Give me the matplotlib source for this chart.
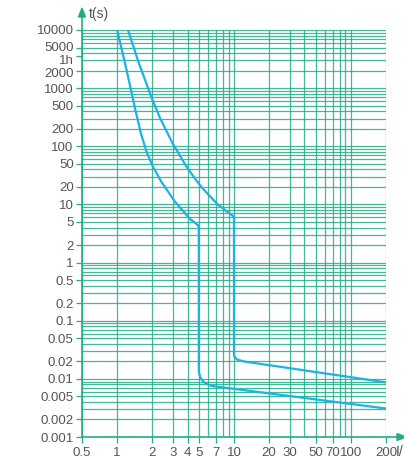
import matplotlib
matplotlib.use("Agg")
import matplotlib.pyplot as plt
from matplotlib.transforms import ScaledTranslation

plt.rcParams['font.family'] = ['Liberation Sans', 'DejaVu Sans']

# tripping curves (I/In, t in s)
low_x = [1.0, 1.192, 1.421, 1.597, 1.796, 2.019, 2.407, 3.10, 4.155, 4.955, 5.0,
         5.0, 5.15, 5.46, 5.90, 6.51, 200]
low_t = [10000, 2238, 450, 166, 77.6, 44.9, 24.0, 11.4, 5.75, 4.32, 4.3,
         0.0131, 0.01054, 0.0090, 0.00805, 0.00753, 0.00309]

up_x = [1.239, 1.521, 1.961, 2.314, 2.983, 3.997, 5.252, 7.177, 10.0,
        10.0, 10.62, 12.2, 200]
up_t = [10000, 2815, 704, 314, 112, 42, 19.9, 10.2, 6.12,
        0.0247, 0.0215, 0.0199, 0.0087]

x_ticks = [0.5, 1, 2, 3, 4, 5, 7, 10, 20, 30, 50, 70, 100, 200]
x_labels = ['0.5', '1', '2', '3', '4', '5', '7', '10', '20', '30', '50', '70', '100', '200']
x_grid = [0.5, 1, 2, 3, 4, 5, 6, 7, 8, 9, 10, 20, 30, 40, 50, 60, 70, 80, 90, 100, 200]

y_ticks = [10000, 5000, 3600, 2000, 1000, 500, 200, 100, 50, 20, 10, 5, 2, 1,
           0.5, 0.2, 0.1, 0.05, 0.02, 0.01, 0.005, 0.002, 0.001]
y_labels = ['10000', '5000', '1h', '2000', '1000', '500', '200', '100', '50', '20', '10',
            '5', '2', '1', '0.5', '0.2', '0.1', '0.05', '0.02', '0.01', '0.005', '0.002', '0.001']

green = '#22ad86'
blue = '#1cb2e6'
grey = '#555555'

W, H = 404, 459
fig = plt.figure(figsize=(W / 100, H / 100), dpi=100)
ax = fig.add_axes([82 / W, 1 - 437 / H, (386 - 82) / W, (437 - 30) / H])

ax.set_xscale('log')
ax.set_yscale('log')
ax.set_xlim(0.5, 200)
ax.set_ylim(0.001, 10000)

y_grid = []
for e in range(-3, 4):
    for k in range(1, 10):
        y_grid.append(k * 10.0 ** e)
y_grid.append(10000)

for gx in x_grid:
    ax.axvline(gx, color=green, lw=0.9, alpha=0.85, zorder=1)
for gy in y_grid:
    ax.axhline(gy, color=green, lw=0.9, alpha=0.85, zorder=1)

ax.plot(low_x, low_t, color=blue, lw=1.6, zorder=3, solid_joinstyle='round')
ax.plot(up_x, up_t, color=blue, lw=1.6, zorder=3, solid_joinstyle='round')

ax.set_xticks(x_ticks)
ax.set_xticklabels(x_labels)
ax.set_xticks([], minor=True)
ax.set_yticks(y_ticks)
ax.set_yticklabels(y_labels)
ax.set_yticks([], minor=True)
ax.tick_params(axis='both', colors=green, labelcolor=grey, labelsize=9.5, length=4, width=0.9)
ax.tick_params(axis='x', pad=3)
ax.tick_params(axis='y', pad=2)

# labels near the top are spread a little in the original
shift = {'5000': 1.0, '1h': -3.5, '2000': -2.0}
for lab in ax.get_yticklabels():
    d = shift.get(lab.get_text(), 0)
    if d:
        lab.set_transform(lab.get_transform() + ScaledTranslation(0, d / 100, fig.dpi_scale_trans))

for s in ['top', 'right', 'left', 'bottom']:
    ax.spines[s].set_visible(False)

# axis arrows
fig.add_artist(plt.Line2D([82 / W, 82 / W], [1 - 437 / H, 1 - 16 / H], color=green, lw=1.2,
                          transform=fig.transFigure))
fig.add_artist(plt.Polygon([[78.5 / W, 1 - 17 / H], [85.5 / W, 1 - 17 / H], [82 / W, 1 - 8 / H]],
                           closed=True, color=green, transform=fig.transFigure))
fig.add_artist(plt.Line2D([82 / W, 398 / W], [1 - 437 / H, 1 - 437 / H], color=green, lw=1.2,
                          transform=fig.transFigure))
fig.add_artist(plt.Polygon([[397 / W, 1 - 433.5 / H], [397 / W, 1 - 440.5 / H], [406 / W, 1 - 437 / H]],
                           closed=True, color=green, transform=fig.transFigure))

fig.text(89 / W, 1 - 14 / H, 't(s)', color=grey, fontsize=10, va='center', ha='left')
fig.text(396 / W, 1 - 452 / H, 'I/In', color=grey, fontsize=10, va='center', ha='left')

fig.savefig('out.png', dpi=100)
